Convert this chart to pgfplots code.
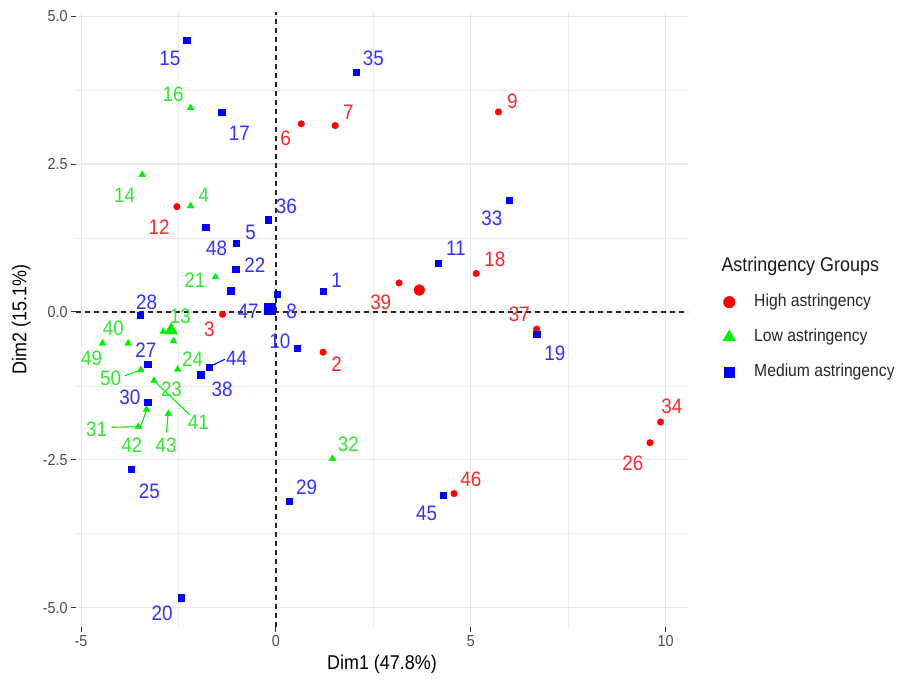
\documentclass[border=0pt]{standalone}
\usepackage{fontspec}
\setmainfont{Liberation Sans}[FakeStretch=0.9]
\usepackage{pgfplots}
\pgfplotsset{compat=1.18}
\usepackage{pgfplotstable}

\definecolor{hred}{RGB}{255,0,0}
\definecolor{lgreen}{RGB}{0,240,0}
\definecolor{mblue}{RGB}{0,0,255}
\definecolor{hredt}{RGB}{255,40,40}
\definecolor{lgreent}{RGB}{50,230,50}
\definecolor{mbluet}{RGB}{50,50,255}

% High astringency
\pgfplotstableread{
x y id lx ly
1.21 -0.68 2 1.56 -0.89
-1.37 -0.04 3 -1.71 -0.30
0.65 3.18 6 0.25 2.93
1.52 3.15 7 1.86 3.38
5.71 3.38 9 6.07 3.56
-2.54 1.78 12 -3.00 1.44
5.14 0.65 18 5.62 0.89
9.60 -2.21 26 9.16 -2.55
9.87 -1.86 34 10.16 -1.60
6.69 -0.29 37 6.25 -0.04
3.16 0.49 39 2.69 0.17
4.57 -3.07 46 5.00 -2.83
}\high

% Low astringency
\pgfplotstableread{
x y id lx ly
-2.19 1.79 4 -1.85 1.97
-2.89 -0.33 13 -2.45 -0.08
-3.43 2.32 14 -3.88 1.97
-2.19 3.45 16 -2.64 3.68
-1.55 0.59 21 -2.08 0.54
-2.63 -0.49 23 -2.68 -1.31
-2.52 -0.97 24 -2.14 -0.80
-3.53 -1.94 31 -4.60 -1.98
1.45 -2.48 32 1.86 -2.23
-3.79 -0.53 40 -4.17 -0.28
-3.13 -1.16 41 -1.99 -1.86
-3.32 -1.65 42 -3.70 -2.26
-2.76 -1.72 43 -2.82 -2.25
-4.45 -0.53 49 -4.73 -0.78
-3.47 -0.98 50 -4.24 -1.12
}\low

% Medium astringency
\pgfplotstableread{
x y id lx ly
1.21 0.35 1 1.56 0.54
-1.01 1.16 5 -0.65 1.34
0.04 0.30 8 0.40 0.01
0.55 -0.61 10 0.10 -0.49
4.17 0.82 11 4.62 1.07
-2.29 4.60 15 -2.72 4.28
-1.39 3.38 17 -0.94 3.02
6.69 -0.37 19 7.16 -0.70
-2.44 -4.83 20 -2.92 -5.09
-1.03 0.72 22 -0.54 0.79
-3.72 -2.66 25 -3.25 -3.03
-3.29 -0.88 27 -3.34 -0.64
-3.48 -0.06 28 -3.32 0.17
0.34 -3.20 29 0.79 -2.97
-3.29 -1.52 30 -3.75 -1.44
5.98 1.89 33 5.54 1.58
2.07 4.05 35 2.50 4.29
-0.19 1.56 36 0.27 1.79
-1.93 -1.06 38 -1.38 -1.30
-1.72 -0.93 44 -1.01 -0.78
4.29 -3.10 45 3.87 -3.41
-1.16 0.36 47 -0.71 0.01
-1.80 1.43 48 -1.52 1.07
}\medium

\newcommand{\lblfont}{\fontsize{21}{21}\selectfont}

\begin{document}
\begin{tikzpicture}
\begin{axis}[
  name=main,
  scale only axis, width=612bp, height=614.7bp,
  xmin=-5.13, xmax=10.575, ymin=-5.32, ymax=5.07,
  axis line style={draw=none},
  xtick={-5,0,5,10}, xticklabels={-5,0,5,10},
  ytick={-5,-2.5,0,2.5,5}, yticklabels={-5.0,-2.5,0.0,2.5,5.0},
  minor xtick={-2.5,2.5,7.5}, minor ytick={-3.75,-1.25,1.25,3.75},
  grid=both,
  major grid style={draw=black!9, line width=1.1bp},
  minor grid style={draw=black!7, line width=0.8bp},
  xtick pos=bottom, ytick pos=left,
  tick align=outside, major tick length=5bp, minor tick length=0bp,
  major tick style={draw=black!80, line width=1bp},
  tick label style={font=\fontsize{16}{16}\selectfont, text=black!70},
  xlabel={Dim1 (47.8\%)}, ylabel={Dim2 (15.1\%)},
  label style={font=\fontsize{20}{20}\selectfont, text=black},
  xlabel style={at={(axis description cs:0.5,-0.0607)}, anchor=center},
  ylabel style={at={(axis description cs:-0.0895,0.5)}, anchor=center},
  legend style={at={(axis description cs:1.0507,0.5445)}, anchor=north west,
    draw=none, fill=none, inner sep=0pt, row sep=15bp,
    font=\fontsize{17.5}{17.5}\selectfont, text=black!85,
    nodes={inner sep=2bp, text height=12.5bp, text depth=3.5bp},
    /tikz/every odd column/.append style={column sep=13bp}},
  legend cell align=left,
  legend image code/.code={\path[draw=none, fill=none] (0bp,-6bp) rectangle (20bp,6bp); \draw[#1] plot coordinates {(10bp,0bp)};},
]
% zero reference lines
\addplot[forget plot, black!85, line width=1.5bp, dash pattern=on 4.5bp off 4.5bp] coordinates {(0,-5.32) (0,5.07)};
\addplot[forget plot, black!85, line width=1.5bp, dash pattern=on 4.5bp off 4.5bp] coordinates {(-5.13,0) (10.575,0)};

% repel segments
\addplot[forget plot, lgreen, line width=1.1bp] coordinates {(-3.88,-1.08) (-3.47,-0.98)};
\addplot[forget plot, lgreen, line width=1.1bp] coordinates {(-2.21,-1.74) (-3.13,-1.16)};
\addplot[forget plot, lgreen, line width=1.1bp] coordinates {(-4.22,-1.95) (-3.53,-1.94)};
\addplot[forget plot, lgreen, line width=1.1bp] coordinates {(-3.50,-1.98) (-3.32,-1.67)};
\addplot[forget plot, lgreen, line width=1.1bp] coordinates {(-2.81,-2.04) (-2.77,-1.75)};
\addplot[forget plot, mblue, line width=1.1bp] coordinates {(-1.31,-0.80) (-1.72,-0.93)};

% points
\addplot[only marks, mark=*, mark size=3.3bp, color=hred, legend image post style={mark size=5.8bp}] table[x=x,y=y] {\high};
\addlegendentry{High astringency}
\addplot[only marks, mark=triangle*, mark size=3.9bp, color=lgreen, legend image post style={mark size=7.3bp}] table[x=x,y=y] {\low};
\addlegendentry{Low astringency}
\addplot[only marks, mark=square*, mark size=3.1bp, color=mblue, legend image post style={mark size=5.3bp}] table[x=x,y=y] {\medium};
\addlegendentry{Medium astringency}

% labels
\addplot[forget plot, draw=none, nodes near coords, point meta=explicit symbolic,
  nodes near coords style={anchor=center, inner sep=0pt, font=\lblfont, text=hredt}]
  table[x=lx, y=ly, meta=id] {\high};
\addplot[forget plot, draw=none, nodes near coords, point meta=explicit symbolic,
  nodes near coords style={anchor=center, inner sep=0pt, font=\lblfont, text=lgreent}]
  table[x=lx, y=ly, meta=id] {\low};
\addplot[forget plot, draw=none, nodes near coords, point meta=explicit symbolic,
  nodes near coords style={anchor=center, inner sep=0pt, font=\lblfont, text=mbluet}]
  table[x=lx, y=ly, meta=id] {\medium};

% group centroids
\addplot[forget plot, only marks, mark=*, mark size=5.5bp, color=hred] coordinates {(3.68,0.37)};
\addplot[forget plot, only marks, mark=triangle*, mark size=7.5bp, color=lgreen] coordinates {(-2.69,-0.31)};
\addplot[forget plot, only marks, mark=square*, mark size=5.5bp, color=mblue] coordinates {(-0.15,0.06)};
\end{axis}
\node[anchor=base west, font=\fontsize{20}{20}\selectfont, text=black!90] at ([xshift=642bp, yshift=354.7bp]main.south west) {Astringency Groups};
\path ([xshift=-76bp, yshift=-64.3bp]main.south west) rectangle ([xshift=828bp, yshift=626.7bp]main.south west);
\end{tikzpicture}
\end{document}
